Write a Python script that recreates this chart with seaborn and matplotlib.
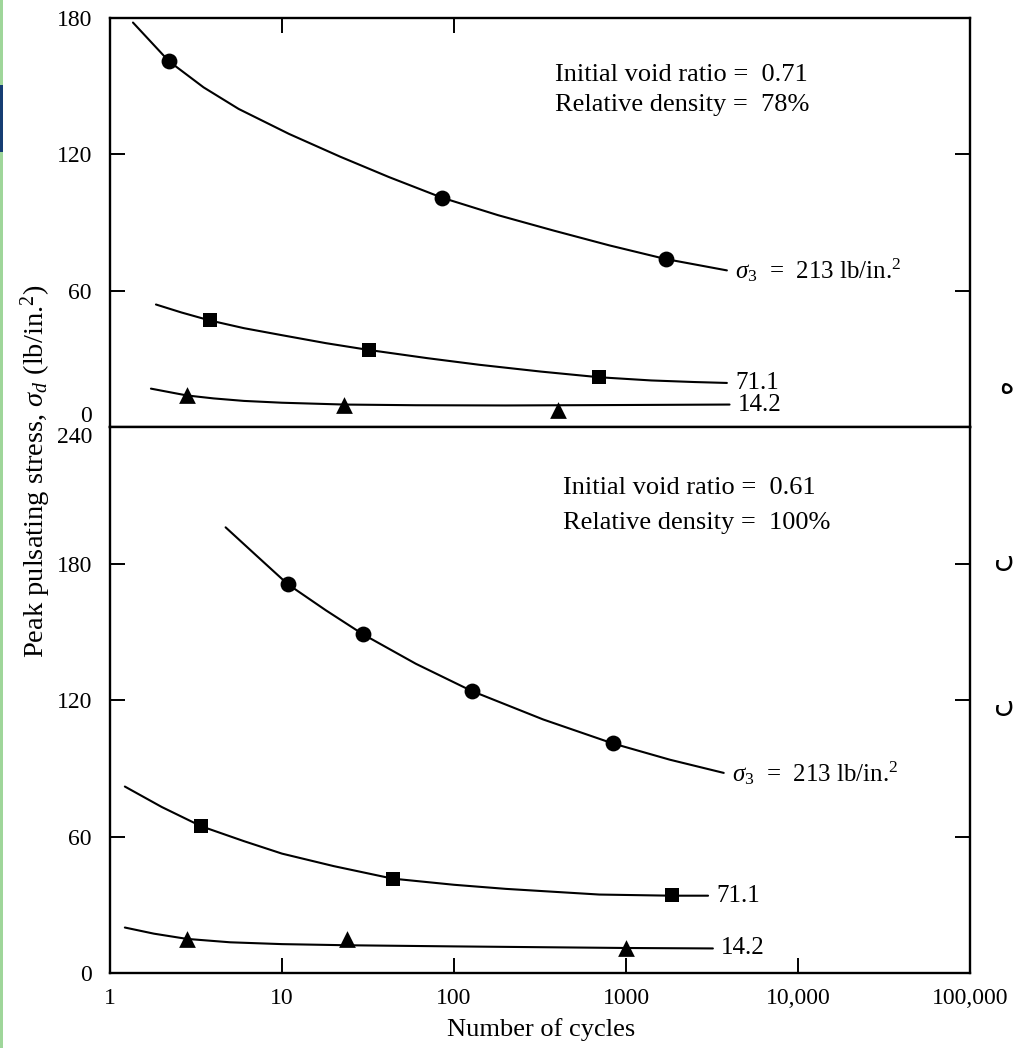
import numpy as np
import pandas as pd
import matplotlib
matplotlib.use("Agg")
import matplotlib.pyplot as plt
from matplotlib.ticker import FixedLocator, FixedFormatter, NullLocator
from matplotlib.patches import Rectangle
import seaborn as sns

# ---------------- data ----------------
cycle_ticks = [1, 10, 100, 1000, 10000, 100000]
cycle_labels = ["1", "10", "100", "1000", "10,000", "100,000"]
top_edge_ticks = [10, 100]
top_yticks = [0, 60, 120, 180]
bot_yticks = [0, 60, 120, 180, 240]

# Upper panel: e0 = 0.71, Dr = 78 %
top_213_n = [2.2, 85, 1700]
top_213_s = [161, 101, 74]
top_213_curve_n = [1.36, 2.2, 3.5, 5.6, 11, 21.8, 42, 85, 180, 380, 800, 1700, 3860]
top_213_curve_s = [178, 161, 149.5, 140, 129, 119, 110, 101, 93.3, 86.5, 80, 74, 69]

top_71_n = [3.8, 32, 700]
top_71_s = [47, 34, 22]
top_71_curve_n = [1.85, 2.6, 3.8, 6, 10, 18, 32, 70, 140, 320, 700, 1400, 2500, 3860]
top_71_curve_s = [54, 50.5, 47, 43.6, 40.5, 37, 34, 30.4, 27.5, 24.5, 22, 20.6, 19.9, 19.5]

top_14_n = [2.8, 23, 400]
top_14_s = [14, 10, 7.5]
top_14_curve_n = [1.73, 2.2, 2.8, 4, 6, 10, 23, 60, 200, 1000, 4000]
top_14_curve_s = [17, 15.5, 14, 12.7, 11.6, 10.8, 10, 9.7, 9.6, 9.8, 10]

# Lower panel: e0 = 0.61, Dr = 100 %
bot_213_n = [10.8, 29.5, 127, 835]
bot_213_s = [171, 149, 124, 101]
bot_213_curve_n = [4.7, 7, 10.8, 18, 29.5, 60, 127, 330, 835, 1800, 3700]
bot_213_curve_s = [196, 184, 171, 159.5, 149, 136, 124, 111.5, 101, 93.8, 88]

bot_71_n = [3.4, 44, 1840]
bot_71_s = [64.5, 41.5, 34.5]
bot_71_curve_n = [1.22, 2, 3.4, 6, 10, 20, 44, 100, 200, 700, 1840, 3000]
bot_71_curve_s = [82, 73, 64.5, 58, 52.5, 47, 41.5, 38.8, 37, 34.5, 34, 34]

bot_14_n = [2.8, 24, 1000]
bot_14_s = [15, 15, 11]
bot_14_curve_n = [1.22, 1.8, 2.8, 5, 10, 24, 100, 1000, 3200]
bot_14_curve_s = [20, 17.3, 15, 13.5, 12.7, 12.2, 11.7, 11, 10.8]

sigma_label = r"$\sigma_3$  =  213 lb/in.$^2$"
label_71 = "71.1"
label_14 = "14.2"

# ---------------- style ----------------
sns.set_theme(style="ticks")
plt.rcParams["font.family"] = ["Liberation Serif", "DejaVu Sans"]
plt.rcParams["mathtext.fontset"] = "custom"
plt.rcParams["mathtext.rm"] = "Liberation Serif"
plt.rcParams["mathtext.it"] = "Liberation Serif:italic"
plt.rcParams["axes.linewidth"] = 1.7

fig = plt.figure(figsize=(10.17, 10.48), dpi=100, facecolor="white")
gs = fig.add_gridspec(2, 1, height_ratios=[3, 4], hspace=0,
                      left=110 / 1017, right=970 / 1017,
                      top=1 - 18 / 1048, bottom=1 - 973 / 1048)
ax_top = fig.add_subplot(gs[0])
ax_bot = fig.add_subplot(gs[1])

ink = "black"


def draw_series(ax, cn, cs, pn, ps, marker, size, end_label):
    curve = pd.DataFrame({"n": cn, "s": cs})
    pts = pd.DataFrame({"n": pn, "s": ps})
    sns.lineplot(data=curve, x="n", y="s", ax=ax, color=ink, lw=1.5,
                 estimator=None, sort=False, zorder=2)
    sns.scatterplot(data=pts, x="n", y="s", ax=ax, marker=marker, s=size,
                    color=ink, edgecolor=ink, linewidth=0, zorder=3)
    ax.annotate(end_label, xy=(cn[-1], cs[-1]), xytext=(6, 0),
                textcoords="offset points", ha="left", va="center",
                fontsize=18, color=ink)


draw_series(ax_top, top_213_curve_n, top_213_curve_s, top_213_n, top_213_s, "o", 130, sigma_label)
draw_series(ax_top, top_71_curve_n, top_71_curve_s, top_71_n, top_71_s, "s", 115, label_71)
draw_series(ax_top, top_14_curve_n, top_14_curve_s, top_14_n, top_14_s, "^", 145, label_14)

draw_series(ax_bot, bot_213_curve_n, bot_213_curve_s, bot_213_n, bot_213_s, "o", 130, sigma_label)
draw_series(ax_bot, bot_71_curve_n, bot_71_curve_s, bot_71_n, bot_71_s, "s", 115, label_71)
draw_series(ax_bot, bot_14_curve_n, bot_14_curve_s, bot_14_n, bot_14_s, "^", 145, label_14)

# ---------------- axes ----------------
for ax in (ax_top, ax_bot):
    ax.set_xscale("log")
    ax.set_xlim(1, 100000)
    ax.set_xlabel("")
    ax.set_ylabel("")
    for sp in ax.spines.values():
        sp.set_visible(True)
        sp.set_linewidth(1.7)
        sp.set_color(ink)
    ax.xaxis.set_minor_locator(NullLocator())
    ax.yaxis.set_minor_locator(NullLocator())
    ax.tick_params(axis="both", which="major", direction="in", length=11,
                   width=1.4, color=ink, labelsize=17, labelcolor=ink)
    ax.tick_params(axis="y", left=True, right=True, pad=13)
    ax.set_facecolor("white")

ax_top.set_ylim(0, 180)
ax_top.yaxis.set_major_locator(FixedLocator(top_yticks))
ax_top.yaxis.set_major_formatter(FixedFormatter([str(v) for v in top_yticks]))
ax_top.xaxis.set_major_locator(FixedLocator(top_edge_ticks))
ax_top.xaxis.set_major_formatter(FixedFormatter([""] * len(top_edge_ticks)))
ax_top.tick_params(axis="x", top=True, bottom=False, labelbottom=False, labeltop=False)

ax_bot.set_ylim(0, 240)
ax_bot.yaxis.set_major_locator(FixedLocator(bot_yticks))
ax_bot.yaxis.set_major_formatter(FixedFormatter([str(v) for v in bot_yticks]))
ax_bot.xaxis.set_major_locator(FixedLocator(cycle_ticks))
ax_bot.xaxis.set_major_formatter(FixedFormatter(cycle_labels))
ax_bot.tick_params(axis="x", top=False, bottom=True, labelbottom=True, pad=11)

fig.canvas.draw()
for lab in ax_top.get_yticklabels():
    if lab.get_text() == "0":
        lab.set_va("bottom")
for lab in ax_bot.get_yticklabels():
    if lab.get_text() == "240":
        lab.set_va("top")

# panel notes
note_kw = dict(fontsize=19, ha="left", va="center", color=ink)
ax_top.text(0.517, 0.861, "Initial void ratio =  0.71", transform=ax_top.transAxes, **note_kw)
ax_top.text(0.517, 0.787, "Relative density =  78%", transform=ax_top.transAxes, **note_kw)
ax_bot.text(0.527, 0.888, "Initial void ratio =  0.61", transform=ax_bot.transAxes, **note_kw)
ax_bot.text(0.527, 0.824, "Relative density =  100%", transform=ax_bot.transAxes, **note_kw)

# axis titles
fig.text(541 / 1017, 1 - 1030 / 1048, "Number of cycles", ha="center", va="center",
         fontsize=19, color=ink)
fig.text(36 / 1017, 1 - 471 / 1048, r"Peak pulsating stress, $\sigma_d$ (lb/in.$^2$)",
         ha="center", va="center", rotation=90, fontsize=20.5, color=ink)

# slide edge decorations
fig.add_artist(Rectangle((0, 0), 3 / 1017, 1, transform=fig.transFigure,
                         facecolor="#9fd69a", edgecolor="none"))
fig.add_artist(Rectangle((0, 1 - 152 / 1048), 3 / 1017, 67 / 1048, transform=fig.transFigure,
                         facecolor="#153d73", edgecolor="none"))
for ch, ypx in (("ه", 385), ("ں", 558), ("ں", 703)):
    fig.text(1014 / 1017, 1 - ypx / 1048, ch, ha="right", va="center", fontsize=20,
             color=ink, family="DejaVu Sans")

fig.savefig("out.png", dpi=100, facecolor="white")
